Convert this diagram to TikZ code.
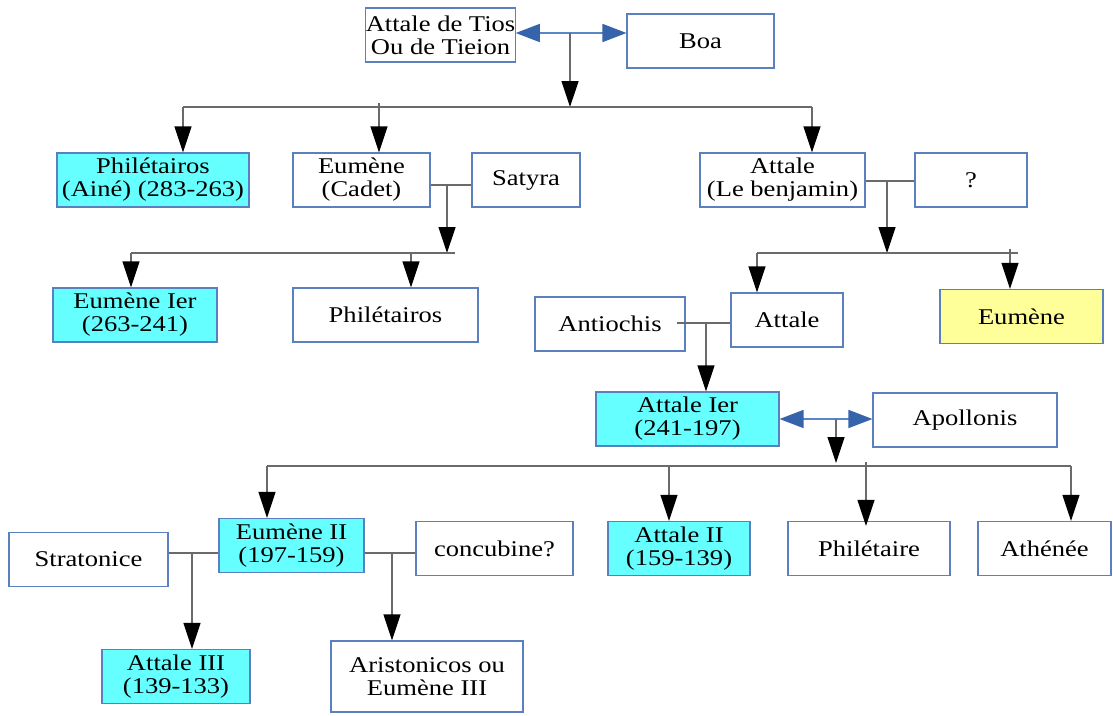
\documentclass[tikz,border=0pt]{standalone}
\usepackage{fontspec}
\setmainfont{Liberation Serif}[FakeStretch=1.18]
\usepackage{tikz}
\usetikzlibrary{arrows.meta}
\definecolor{frame}{HTML}{5A80C0}
\definecolor{wire}{HTML}{6A6A6A}
\definecolor{wedblue}{HTML}{5A86C8}
\definecolor{wedtip}{HTML}{3563AC}
\definecolor{ruler}{HTML}{66FFFF}
\definecolor{heiryellow}{HTML}{FFFF99}
\tikzset{
  person/.style={draw=frame, line width=1.1pt, fill=white, minimum height=54pt, inner sep=0pt, align=center, font=\fontsize{22.5}{23}\selectfont},
  king/.style={person, fill=ruler},
  yel/.style={person, fill=heiryellow},
  bus/.style={draw=wire, line width=1.2pt},
  child/.style={draw=wire, line width=1.2pt, -{Triangle[length=26pt,width=17pt,color=black]}},
  wed/.style={draw=wedblue, line width=1.6pt, -{Triangle[length=24pt,width=18pt,color=wedtip]}},
}
\begin{document}
\begin{tikzpicture}[x=1pt,y=-1pt]
  \useasboundingbox (0,0) rectangle (1113,715);
  % generations
  \node[person,minimum width=149pt] (tios) at (440.5,35) {Attale de Tios\\Ou de Tieion};
  \node[person,minimum width=147pt] (boa) at (700.5,41) {Boa};
  \node[king,minimum width=192pt] (phil1) at (153,180) {Philétairos\\(Ainé) (283-263)};
  \node[person,minimum width=137pt] (eumc) at (361.5,180) {Eumène\\(Cadet)};
  \node[person,minimum width=108pt] (satyra) at (526,180) {Satyra};
  \node[person,minimum width=165pt] (attb) at (782.5,180) {Attale\\(Le benjamin)};
  \node[person,minimum width=112pt] (unk) at (971,180) {?};
  \node[king,minimum width=164pt] (eum1) at (135,315) {Eumène Ier\\(263-241)};
  \node[person,minimum width=185pt] (phil2) at (385.5,315) {Philétairos};
  \node[person,minimum width=150pt] (antio) at (610,324) {Antiochis};
  \node[person,minimum width=112pt] (att) at (787,320) {Attale};
  \node[yel,minimum width=163pt] (eumy) at (1021.5,316.5) {Eumène};
  \node[king,minimum width=183pt] (att1) at (687.5,419) {Attale Ier\\(241-197)};
  \node[person,minimum width=184pt] (apol) at (965,420) {Apollonis};
  \node[person,minimum width=159pt] (strat) at (88.5,559.5) {Stratonice};
  \node[king,minimum width=145pt] (eum2) at (291.5,545.5) {Eumène II\\(197-159)};
  \node[person,minimum width=157pt] (conc) at (494.5,548.5) {concubine?};
  \node[king,minimum width=142pt] (att2) at (679,548.5) {Attale II\\(159-139)};
  \node[person,minimum width=162pt] (philt) at (869,548.5) {Philétaire};
  \node[person,minimum width=133pt] (athe) at (1044.5,548.5) {Athénée};
  \node[king,minimum width=148pt] (att3) at (176,676.5) {Attale III\\(139-133)};
  \node[person,minimum width=192pt,minimum height=71pt] (arist) at (427,676.5) {Aristonicos ou\\Eumène III};
  % Attale de Tios + Boa
  \coordinate (w0) at (570,33);
  \coordinate (b0) at (570,107);
  \coordinate (b0l) at (183,107);
  \coordinate (b0m) at (379,103);
  \coordinate (b0r) at (812,107);
  \draw[wed] (w0) -- (tios.east |- w0);
  \draw[wed] (w0) -- (boa.west |- w0);
  \draw[child] (w0) -- (b0);
  \draw[bus] (b0l) -- (b0r);
  \draw[child] (b0l) -- (b0l |- phil1.north);
  \draw[child] (b0m) -- (b0m |- eumc.north);
  \draw[child] (b0r) -- (b0r |- attb.north);
  % Eumene + Satyra
  \coordinate (w1) at (447,185);
  \coordinate (b1) at (447,253);
  \coordinate (b1l) at (131,253);
  \coordinate (b1m) at (411,253);
  \coordinate (b1r) at (455,253);
  \draw[bus] (eumc.east |- w1) -- (satyra.west |- w1);
  \draw[child] (w1) -- (b1);
  \draw[bus] (b1l) -- (b1r);
  \draw[child] (b1l) -- (b1l |- eum1.north);
  \draw[child] (b1m) -- (b1m |- phil2.north);
  % Attale + ?
  \coordinate (w2) at (887,181);
  \coordinate (b2) at (887,253);
  \coordinate (b2l) at (757,253);
  \coordinate (b2m) at (1010,249);
  \coordinate (b2r) at (1018,253);
  \draw[bus] (attb.east |- w2) -- (unk.west |- w2);
  \draw[child] (w2) -- (b2);
  \draw[bus] (b2l) -- (b2r);
  \draw[child] (b2l) -- (b2l |- att.north);
  \draw[child] (b2m) -- (b2m |- eumy.north);
  % Antiochis + Attale
  \coordinate (w3) at (706,323);
  \draw[bus] (677,323) -- (att.west |- w3);
  \draw[child] (w3) -- (w3 |- att1.north);
  % Attale Ier + Apollonis
  \coordinate (w4) at (836,419);
  \coordinate (b4) at (836,463);
  \coordinate (b4l) at (267,466);
  \coordinate (b4a) at (669,466);
  \coordinate (b4p) at (866,462);
  \coordinate (b4r) at (1071,466);
  \draw[wed] (w4) -- (att1.east |- w4);
  \draw[wed] (w4) -- (apol.west |- w4);
  \draw[child] (w4) -- (b4);
  \draw[bus] (b4l) -- (b4r);
  \draw[child] (b4l) -- (b4l |- eum2.north);
  \draw[child] (b4a) -- (b4a |- att2.north);
  \draw[child] (b4p) -- ([yshift=-5pt]b4p |- philt.north);
  \draw[child] (b4r) -- (b4r |- athe.north);
  % Eumene II + Stratonice, concubine
  \coordinate (w5) at (192,553);
  \coordinate (w6) at (392,553);
  \draw[bus] (strat.east |- w5) -- (eum2.west |- w5);
  \draw[child] (w5) -- (w5 |- att3.north);
  \draw[bus] (eum2.east |- w6) -- (conc.west |- w6);
  \draw[child] (w6) -- (w6 |- arist.north);
\end{tikzpicture}
\end{document}
